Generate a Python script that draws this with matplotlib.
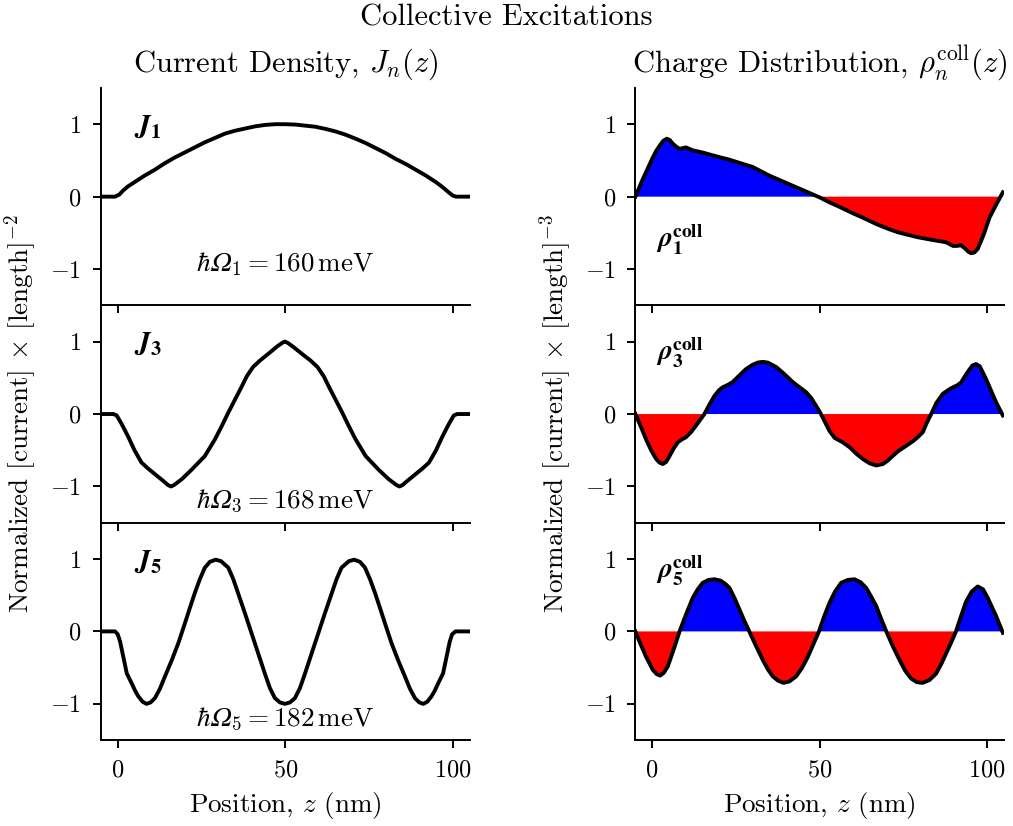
import numpy as np
import matplotlib
matplotlib.use('Agg')
import matplotlib.pyplot as plt

plt.rcParams.update({
    'font.family': 'serif',
    'font.serif': ['cmr10'],
    'mathtext.fontset': 'cm',
    'axes.formatter.use_mathtext': True,
    'font.size': 16,
    'axes.linewidth': 1.4,
})

# current densities
z_j1 = [-5, -0.8, 0.5, 1.5, 3, 5, 8, 11, 14, 17, 20, 23, 26, 29, 32, 35, 38, 41, 44,
        47, 50, 53, 56, 59, 62, 65, 68, 71, 74, 77, 80, 83, 86, 89, 92, 95, 97, 98.5,
        100, 101, 105]
j1 = [0, 0, 0.03, 0.08, 0.14, 0.20, 0.29, 0.37, 0.46, 0.54, 0.61, 0.68, 0.75, 0.81,
      0.87, 0.91, 0.94, 0.97, 0.99, 1.0, 1.0, 0.995, 0.98, 0.965, 0.935, 0.90, 0.855,
      0.80, 0.74, 0.67, 0.60, 0.52, 0.45, 0.37, 0.29, 0.20, 0.13, 0.07, 0.015, 0, 0]

z_j3 = [-5, -1.3, -0.3, 1.2, 3.2, 5, 7.1, 9, 11.1, 13.5, 15, 15.9, 16.8, 19.1, 22, 26,
        29, 31, 33, 35, 36.9, 38.5, 40.4, 42.5, 44.9, 47.5, 49, 49.9, 50.8, 52.3, 55,
        57.5, 59.6, 61.5, 63.1, 65, 67, 69, 71, 74, 77.9, 80.9, 83.2, 84.1, 85, 86.5,
        88.9, 91, 92.9, 95, 96.8, 98.8, 100.3, 101.3, 105]
j3 = [0, 0, -0.02, -0.14, -0.32, -0.50, -0.67, -0.75, -0.83, -0.92, -0.98, -1.0, -0.98,
      -0.90, -0.77, -0.58, -0.35, -0.17, 0.02, 0.20, 0.37, 0.52, 0.65, 0.74, 0.83, 0.93,
      0.98, 1.0, 0.98, 0.93, 0.83, 0.74, 0.65, 0.52, 0.37, 0.20, 0.02, -0.17, -0.35,
      -0.58, -0.77, -0.90, -0.98, -1.0, -0.98, -0.92, -0.83, -0.75, -0.67, -0.50,
      -0.32, -0.14, -0.02, 0, 0]

z_j5 = [-5, -0.8, 0, 0.7, 1.7, 2.7, 4.2, 5.2, 6.2, 7.4, 8.6, 9.8, 11.1, 12.6, 14.1,
        16.1, 18.1, 20.1, 21.5, 23, 24.5, 26, 27.5, 29.2, 30.8, 33, 34.5, 35.9, 37.9,
        39.9, 41.9, 43.9, 45.4, 46.9, 48.4, 49.9, 51.4, 52.9, 54.4, 55.9, 57.9, 59.9,
        61.9, 63.9, 65.3, 66.8, 69, 70.6, 72.3, 73.8, 75.3, 76.8, 78.3, 79.7, 81.7,
        83.7, 85.7, 87.2, 88.7, 90, 91.2, 92.4, 93.6, 94.6, 95.6, 97.1, 98.1, 99.1,
        99.8, 100.8, 105]
j5 = [0, 0, -0.04, -0.14, -0.36, -0.58, -0.72, -0.82, -0.90, -0.97, -1.0, -0.98, -0.92,
      -0.79, -0.62, -0.40, -0.16, 0.12, 0.32, 0.53, 0.72, 0.88, 0.96, 0.99, 0.97, 0.88,
      0.72, 0.53, 0.26, -0.02, -0.30, -0.58, -0.78, -0.92, -0.98, -1.0, -0.98, -0.92,
      -0.78, -0.58, -0.30, -0.02, 0.26, 0.53, 0.72, 0.88, 0.97, 0.99, 0.96, 0.88, 0.72,
      0.53, 0.32, 0.12, -0.16, -0.40, -0.62, -0.79, -0.92, -0.98, -1.0, -0.97, -0.90,
      -0.82, -0.72, -0.58, -0.36, -0.14, -0.04, 0, 0]

# collective charge distributions
z_r1 = [-5, -3.9, -2.8, -1.3, 0.2, 1.2, 2.2, 3.3, 4.4, 5.3, 6.2, 7.2, 8.2, 9.2, 10.1,
        11.1, 12.1, 15, 18.1, 20.5, 23.1, 26.5, 30, 32.5, 35, 39, 43, 46.5, 50, 53,
        55.9, 59.5, 62.9, 67, 70.8, 73.3, 75.8, 79.3, 82.8, 85.3, 87.8, 89, 89.8, 91,
        92.2, 93.5, 94.4, 95.2, 96.2, 97.2, 99, 100.7, 102.7, 104.7]
r1 = [0, 0.12, 0.24, 0.39, 0.54, 0.63, 0.70, 0.77, 0.80, 0.78, 0.73, 0.69, 0.66, 0.67,
      0.68, 0.66, 0.64, 0.61, 0.57, 0.54, 0.51, 0.46, 0.41, 0.35, 0.29, 0.21, 0.13,
      0.06, -0.01, -0.08, -0.14, -0.22, -0.29, -0.38, -0.45, -0.49, -0.52, -0.56,
      -0.59, -0.61, -0.63, -0.66, -0.68, -0.68, -0.67, -0.72, -0.76, -0.78, -0.77,
      -0.72, -0.52, -0.29, -0.11, 0.06]

z_r3 = [-5, -3.4, -1.8, -0.3, 1.2, 2.2, 3.2, 4.2, 5.2, 6.5, 7.7, 8.9, 10.1, 11.6, 13.1,
        15.6, 17.1, 18.6, 20, 21.1, 22.5, 24, 26, 28, 30, 31.5, 33, 34.5, 37, 39.5, 42,
        44, 46, 47.5, 49, 50.4, 51.7, 52.9, 54.5, 56.9, 59, 61, 62.9, 64.9, 66.9, 68.9,
        70.4, 71.8, 73.5, 75.8, 78, 79.5, 80.8, 82, 83.3, 84.8, 86.8, 89, 91.2, 92.3,
        93.2, 94.5, 95.6, 96.7, 97.8, 99.7, 101.2, 102.7, 104.7]
r3 = [0, -0.17, -0.35, -0.50, -0.62, -0.67, -0.69, -0.66, -0.58, -0.47, -0.39, -0.35,
      -0.32, -0.25, -0.16, 0, 0.13, 0.25, 0.33, 0.37, 0.40, 0.44, 0.53, 0.62, 0.68,
      0.71, 0.72, 0.71, 0.65, 0.55, 0.44, 0.37, 0.30, 0.22, 0.11, 0, -0.12, -0.23,
      -0.33, -0.39, -0.46, -0.55, -0.62, -0.68, -0.71, -0.69, -0.64, -0.58, -0.51,
      -0.44, -0.37, -0.31, -0.25, -0.12, 0, 0.15, 0.28, 0.35, 0.40, 0.44, 0.51, 0.60,
      0.67, 0.69, 0.66, 0.48, 0.32, 0.16, -0.02]

z_r5 = [-5, -3.5, -1.8, 0.2, 1.4, 2.4, 3.5, 4.7, 6.5, 8.2, 10, 12.1, 13.6, 15.1, 16.8,
        18.6, 20.5, 22, 23.1, 24.6, 26.1, 27.5, 29, 31, 33, 34.5, 36, 37.6, 39.2, 41,
        43, 44.8, 46.5, 48.2, 49.8, 51.3, 52.9, 54.6, 56.4, 58.4, 60.4, 62.2, 63.9,
        65.4, 66.9, 68.4, 69.9, 71.8, 73.8, 75.5, 77.3, 79, 80.8, 82.8, 84.8, 86.3,
        87.8, 89.3, 90.7, 92.2, 93.7, 95.4, 97.2, 98.8, 100.2, 101.5, 102.7, 104.7]
r5 = [0, -0.17, -0.35, -0.53, -0.59, -0.61, -0.57, -0.48, -0.24, 0, 0.22, 0.46, 0.58,
      0.67, 0.71, 0.72, 0.70, 0.65, 0.60, 0.46, 0.30, 0.15, 0, -0.20, -0.39, -0.52,
      -0.62, -0.68, -0.71, -0.69, -0.62, -0.50, -0.35, -0.17, 0, 0.20, 0.39, 0.55,
      0.67, 0.71, 0.72, 0.68, 0.60, 0.48, 0.35, 0.17, 0, -0.20, -0.39, -0.54, -0.65,
      -0.70, -0.71, -0.67, -0.58, -0.45, -0.30, -0.15, 0, 0.21, 0.41, 0.55, 0.62,
      0.58, 0.46, 0.33, 0.21, -0.02]

modes = [1, 3, 5]
energies = [160, 168, 182]
energy_y = [0.19, 0.10, 0.10]
rho_label_y = [0.30, 0.78, 0.78]

currents = [(z_j1, j1), (z_j3, j3), (z_j5, j5)]
charges = [(z_r1, r1), (z_r3, r3), (z_r5, r5)]

fig, axes = plt.subplots(3, 2, figsize=(10.13, 8.26), dpi=100, sharex=True)
fig.subplots_adjust(left=0.0997, right=0.991, top=0.8935, bottom=0.104,
                    hspace=0, wspace=0.45)

for i, n in enumerate(modes):
    axJ = axes[i, 0]
    axR = axes[i, 1]

    z, j = currents[i]
    axJ.plot(z, j, color='black', lw=2.8, solid_joinstyle='round')
    axJ.text(0.09, 0.82, rf'$\mathbfit{{J}}_{{\mathbf{{{n}}}}}$', transform=axJ.transAxes,
             ha='left', va='center', fontsize=21, math_fontfamily='stix')
    axJ.text(0.5, energy_y[i],
             rf'$\hbar𝛺_{n} = {energies[i]}\,\mathrm{{meV}}$',
             transform=axJ.transAxes, ha='center', va='center', fontsize=19.5)

    z, r = charges[i]
    z = np.array(z)
    r = np.array(r)
    axR.fill_between(z, r, 0, where=r >= 0, color='#0000ff', interpolate=True, lw=0)
    axR.fill_between(z, r, 0, where=r <= 0, color='#ff0000', interpolate=True, lw=0)
    axR.plot(z, r, color='black', lw=2.8, solid_joinstyle='round')
    axR.text(0.055, rho_label_y[i],
             rf'$\mathbfit{{\rho}}_{{\mathbf{{{n}}}}}^{{\mathbf{{coll}}}}$',
             transform=axR.transAxes, ha='left', va='center', fontsize=20,
             math_fontfamily='stix')

    for ax in (axJ, axR):
        ax.set_facecolor('none')
        ax.set_xlim(-5, 105)
        ax.set_ylim(-1.5, 1.5)
        ax.set_yticks([-1, 0, 1])
        ax.set_xticks([0, 50, 100])
        ax.spines['top'].set_visible(False)
        ax.spines['right'].set_visible(False)
        ax.tick_params(direction='out', length=6, width=1.4, pad=8, labelsize=17.5)

axes[0, 0].set_title(r'Current Density, $J_n(z)$', pad=12, fontsize=22)
axes[0, 1].set_title(r'Charge Distribution, $\rho_n^{\mathrm{coll}}(z)$', pad=12,
                     fontsize=22)
axes[2, 0].set_xlabel(r'Position, $z$ (nm)', fontsize=19.5, labelpad=6)
axes[2, 1].set_xlabel(r'Position, $z$ (nm)', fontsize=19.5, labelpad=6)
axes[1, 0].set_ylabel(r'Normalized [current] $\times$ [length]$^{-2}$', fontsize=19.5,
                      labelpad=8)
axes[1, 1].set_ylabel(r'Normalized [current] $\times$ [length]$^{-3}$', fontsize=19.5,
                      labelpad=8)
fig.suptitle('Collective Excitations', y=0.995, va='top', fontsize=22)

fig.savefig('out.png', dpi=100)
